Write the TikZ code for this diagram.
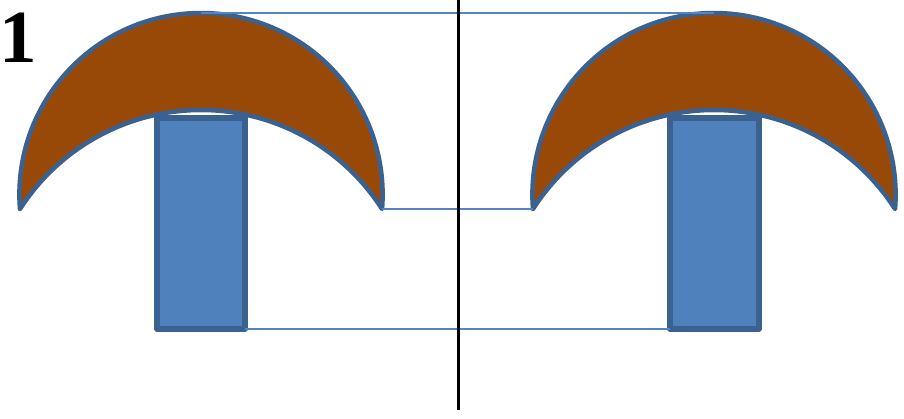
\documentclass[tikz,border=0pt]{standalone}
\usepackage{fontspec}
\setmainfont{Liberation Serif}
\definecolor{capbrown}{HTML}{984807}
\definecolor{edgeblue}{HTML}{3B6190}
\definecolor{stemblue}{HTML}{4F81BD}
\definecolor{guideblue}{HTML}{5585C0}
\tikzset{
  capshape/.style={fill=capbrown, draw=edgeblue, line width=4.5pt, line join=round},
  stemshape/.style={fill=stemblue, draw=edgeblue, line width=5.5pt, line join=round},
  guide/.style={draw=guideblue, line width=2pt},
  axisline/.style={draw=black, line width=3pt}
}
\begin{document}
\begin{tikzpicture}[x=1pt,y=1pt]
\useasboundingbox (0,0) rectangle (904,418);
% left mushroom
\draw[stemshape] (157,89) rectangle (245,300);
\coordinate (LstemBR) at (245,89);
\draw[capshape] (20,209) coordinate (LtipL)
  arc[start angle=184.55, end angle=-4.55, radius=181.6] coordinate (LtipR)
  arc[start angle=32.65, end angle=147.35, radius=215] -- cycle;
\coordinate (Lapex) at (201,405);
% right mushroom
\draw[stemshape] (670,89) rectangle (759,300);
\coordinate (RstemBL) at (670,89);
\draw[capshape] (533,209) coordinate (RtipL)
  arc[start angle=184.55, end angle=-4.55, radius=181.6] coordinate (RtipR)
  arc[start angle=32.65, end angle=147.35, radius=215] -- cycle;
\coordinate (Rapex) at (714,405);
% guide lines
\draw[guide] (Lapex) -- (Rapex);
\draw[guide] (LtipR) -- (RtipL);
\draw[guide] (LstemBR) -- (RstemBL);
% axis
\coordinate (axtop) at (458,418);
\coordinate (axbot) at (458,8);
\draw[axisline] (axtop) -- (axbot);
% label
\node[anchor=base, inner sep=0pt, font=\fontsize{75}{75}\selectfont\bfseries] (lab) at (18.5,355) {1};
\end{tikzpicture}
\end{document}
